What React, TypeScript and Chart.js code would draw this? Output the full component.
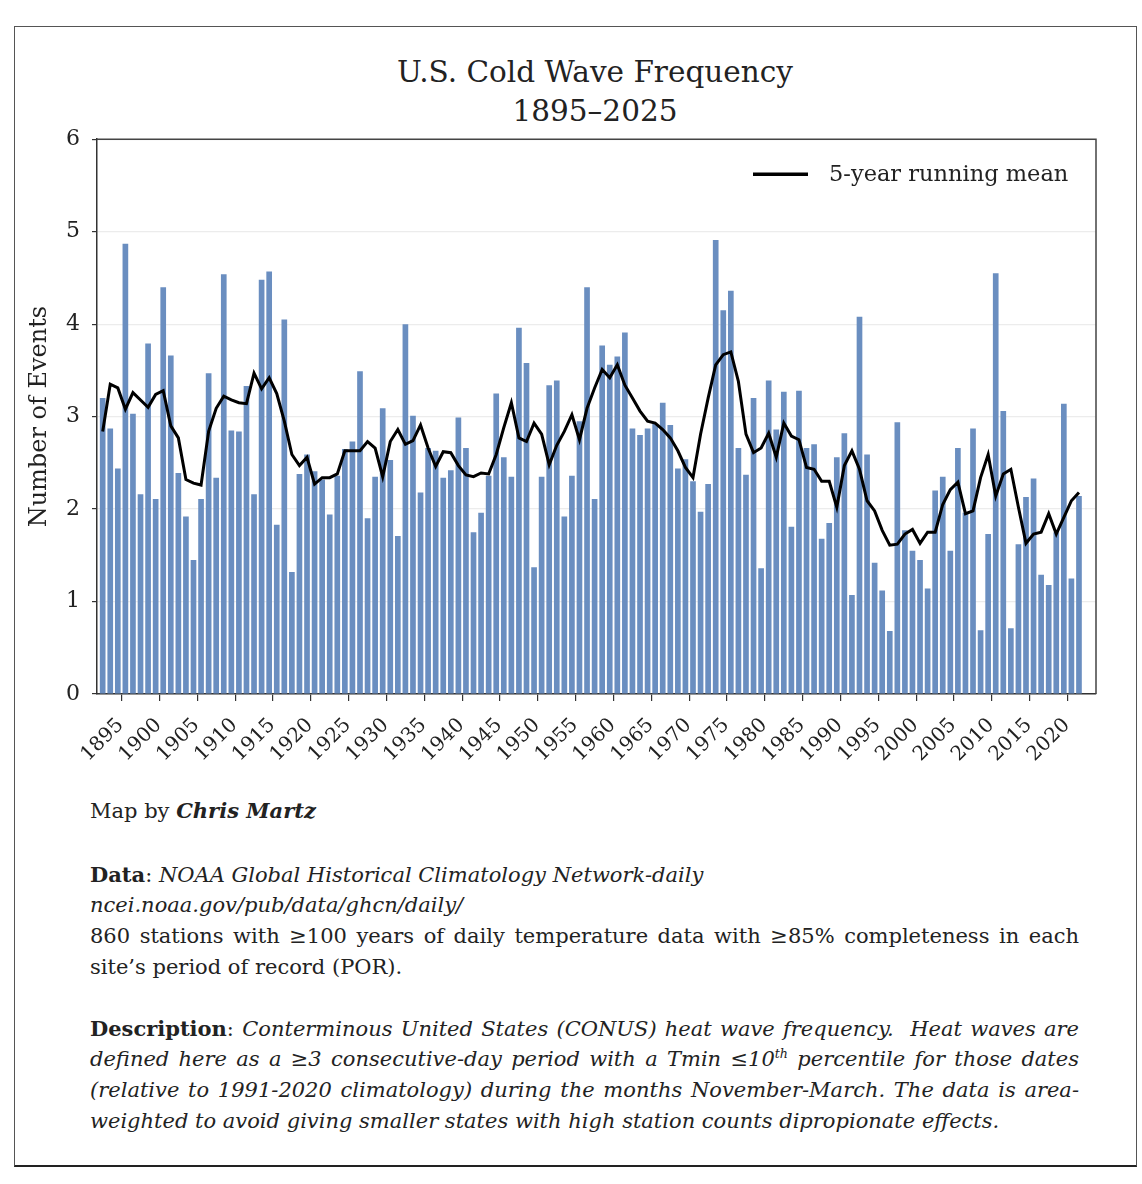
import React, { useEffect, useRef } from 'react';
import { Chart, registerables } from 'chart.js';

Chart.register(...registerables);

const years: number[] = Array.from({ length: 130 }, (_, i) => 1895 + i);

const tickLabels: string[] = [
  '1895', '1900', '1905', '1910', '1915', '1920', '1925', '1930', '1935', '1940',
  '1945', '1950', '1955', '1960', '1965', '1970', '1975', '1980', '1985', '1990',
  '1995', '2000', '2005', '2010', '2015', '2020',
];

const yTicks: number[] = [0, 1, 2, 3, 4, 5, 6];

// Number of cold wave events per year (1895–2024)
const coldWaveEvents: number[] = [
  3.20, 2.87, 2.44, 4.87, 3.03, 2.16, 3.79, 2.11, 4.40, 3.66, // 1895-1904
  2.39, 1.92, 1.45, 2.11, 3.47, 2.34, 4.54, 2.85, 2.84, 3.33, // 1905-1914
  2.16, 4.48, 4.57, 1.83, 4.05, 1.32, 2.38, 2.59, 2.41, 2.32, // 1915-1924
  1.94, 2.36, 2.65, 2.73, 3.49, 1.90, 2.35, 3.09, 2.53, 1.71, // 1925-1934
  4.00, 3.01, 2.18, 2.66, 2.63, 2.34, 2.42, 2.99, 2.66, 1.75, // 1935-1944
  1.96, 2.36, 3.25, 2.56, 2.35, 3.96, 3.58, 1.37, 2.35, 3.34, // 1945-1954
  3.39, 1.92, 2.36, 2.95, 4.40, 2.11, 3.77, 3.56, 3.65, 3.91, // 1955-1964
  2.87, 2.80, 2.87, 2.92, 3.15, 2.91, 2.44, 2.54, 2.30, 1.97, // 1965-1974
  2.27, 4.91, 4.15, 4.36, 2.66, 2.37, 3.20, 1.36, 3.39, 2.86, // 1975-1984
  3.27, 1.81, 3.28, 2.66, 2.70, 1.68, 1.85, 2.56, 2.82, 1.07, // 1985-1994
  4.08, 2.59, 1.42, 1.12, 0.68, 2.94, 1.77, 1.55, 1.45, 1.14, // 1995-2004
  2.20, 2.35, 1.55, 2.66, 1.96, 2.87, 0.69, 1.73, 4.55, 3.06, // 2005-2014
  0.71, 1.62, 2.13, 2.33, 1.29, 1.18, 1.75, 3.14, 1.25, 2.14, // 2015-2024
];

// 5-year running mean as drawn (1895–2024)
const runningMean: number[] = [
  2.84, 3.35, 3.31, 3.08, 3.26, 3.18, 3.10, 3.24, 3.28, 2.90, // 1895-1904
  2.77, 2.32, 2.28, 2.26, 2.84, 3.09, 3.22, 3.18, 3.15, 3.14, // 1905-1914
  3.47, 3.30, 3.42, 3.25, 2.95, 2.59, 2.47, 2.56, 2.27, 2.34, // 1915-1924
  2.34, 2.38, 2.63, 2.63, 2.63, 2.73, 2.66, 2.35, 2.73, 2.86, // 1925-1934
  2.70, 2.74, 2.91, 2.66, 2.46, 2.62, 2.61, 2.47, 2.37, 2.35, // 1935-1944
  2.39, 2.38, 2.59, 2.88, 3.15, 2.77, 2.73, 2.93, 2.81, 2.48, // 1945-1954
  2.69, 2.84, 3.02, 2.75, 3.09, 3.31, 3.51, 3.42, 3.56, 3.34, // 1955-1964
  3.20, 3.06, 2.95, 2.93, 2.86, 2.77, 2.63, 2.45, 2.34, 2.81, // 1965-1974
  3.20, 3.56, 3.67, 3.70, 3.38, 2.81, 2.61, 2.66, 2.82, 2.56, // 1975-1984
  2.93, 2.79, 2.75, 2.45, 2.43, 2.30, 2.30, 2.02, 2.47, 2.63, // 1985-1994
  2.43, 2.09, 1.98, 1.77, 1.61, 1.62, 1.73, 1.78, 1.63, 1.75, // 1995-2004
  1.75, 2.05, 2.21, 2.29, 1.95, 1.98, 2.34, 2.59, 2.14, 2.38, // 2005-2014
  2.43, 2.02, 1.63, 1.73, 1.75, 1.95, 1.73, 1.91, 2.09, 2.18, // 2015-2024
];

const SERIF = '"DejaVu Serif", serif';

const frameLegendPlugin = {
  id: 'frameLegend',
  afterDraw(chart: any) {
    const { ctx, chartArea } = chart;
    const { left, top, right, bottom } = chartArea;
    ctx.save();
    ctx.strokeStyle = '#444';
    ctx.lineWidth = 1.5;
    ctx.beginPath();
    ctx.moveTo(left, top);
    ctx.lineTo(right, top);
    ctx.lineTo(right, bottom);
    ctx.stroke();

    // centred, 45°-rotated year labels placed with the x scale
    const xs = chart.scales.x;
    ctx.fillStyle = '#222';
    ctx.font = `20px ${SERIF}`;
    ctx.textAlign = 'center';
    ctx.textBaseline = 'middle';
    tickLabels.forEach((t) => {
      const px = xs.getPixelForValue(Number(t));
      ctx.save();
      ctx.translate(px, bottom + 46);
      ctx.rotate(-Math.PI / 4);
      ctx.fillText(t, 0, 0);
      ctx.restore();
    });

    // legend entry for the running mean line
    const ds = chart.data.datasets[0];
    const y = top + 35;
    const x1 = right - 343;
    ctx.strokeStyle = ds.borderColor;
    ctx.lineWidth = 3.5;
    ctx.beginPath();
    ctx.moveTo(x1, y);
    ctx.lineTo(x1 + 55, y);
    ctx.stroke();
    ctx.fillStyle = '#222';
    ctx.font = `22.5px ${SERIF}`;
    ctx.textBaseline = 'middle';
    ctx.textAlign = 'left';
    ctx.fillText(ds.label, x1 + 76, y + 1);
    ctx.restore();
  },
};

function ColdWaveChart() {
  const ref = useRef<HTMLCanvasElement | null>(null);
  useEffect(() => {
    if (!ref.current) return;
    const barData = years.map((yr, i) => ({ x: yr, y: coldWaveEvents[i] }));
    const lineData = years.map((yr, i) => ({ x: yr, y: runningMean[i] }));
    const chart = new Chart(ref.current, {
      type: 'bar',
      data: {
        datasets: [
          {
            type: 'line',
            label: '5-year running mean',
            data: lineData,
            borderColor: '#000000',
            borderWidth: 3,
            pointRadius: 0,
            tension: 0,
            order: 0,
          } as any,
          {
            type: 'bar',
            label: 'Cold wave events',
            data: barData,
            backgroundColor: '#6a8ec0',
            barPercentage: 0.75,
            categoryPercentage: 1,
            order: 1,
          } as any,
        ],
      },
      options: {
        animation: false,
        responsive: false,
        maintainAspectRatio: false,
        layout: { padding: { left: 0, right: 41, top: 12, bottom: 0 } },
        plugins: {
          legend: { display: false },
          title: { display: false },
          tooltip: { enabled: false },
        },
        scales: {
          x: {
            type: 'linear',
            min: 1894.25,
            max: 2026.25,
            offset: false,
            grid: { drawOnChartArea: false, tickLength: 7, tickColor: '#333', lineWidth: 1.2 },
            border: { color: '#333', width: 1.5 },
            afterBuildTicks(scale: any) {
              scale.ticks = tickLabels.map((t) => ({ value: Number(t) }));
            },
            ticks: {
              display: false,
              autoSkip: false,
            },
            afterFit(scale: any) {
              scale.height = 80;
            },
          },
          y: {
            min: 0,
            max: 6,
            afterBuildTicks(scale: any) {
              scale.ticks = yTicks.map((t) => ({ value: t }));
            },
            ticks: {
              stepSize: 1,
              padding: 12,
              color: '#222',
              font: { family: SERIF, size: 22 },
            },
            grid: { color: '#ececec', tickColor: '#333', tickLength: 5, lineWidth: 1.2 },
            border: { color: '#333', width: 1.5 },
            title: {
              display: true,
              text: 'Number of Events',
              color: '#222',
              font: { family: SERIF, size: 24 },
              padding: { top: 10, bottom: 0 },
            },
            afterFit(scale: any) {
              scale.width = 82;
            },
          },
        },
      } as any,
      plugins: [frameLegendPlugin],
    });
    return () => chart.destroy();
  }, []);
  return (
    <canvas
      ref={ref}
      width={1122}
      height={660}
      style={{ position: 'absolute', left: 15, top: 114, width: 1122, height: 660 }}
    />
  );
}

const lineStyle: React.CSSProperties = {
  position: 'absolute',
  left: 90,
  width: 989,
  height: 31,
  lineHeight: '31px',
  fontSize: 21,
  whiteSpace: 'nowrap',
};

const justified: React.CSSProperties = {
  ...lineStyle,
  textAlign: 'justify',
  textAlignLast: 'justify' as any,
  whiteSpace: 'normal',
};

export default function App() {
  return (
    <div
      style={{
        position: 'absolute',
        left: 0,
        top: 0,
        width: 1142,
        height: 1184,
        background: '#ffffff',
        fontFamily: SERIF,
        color: '#222',
        overflow: 'hidden',
      }}
    >
      <div
        style={{
          position: 'absolute',
          left: 14,
          top: 26,
          width: 1123,
          height: 1141,
          border: '1.5px solid #555',
          borderBottom: '2.5px solid #222',
          boxSizing: 'border-box',
        }}
      />
      <div style={{ position: 'absolute', left: 295, width: 600, top: 53, lineHeight: '39px', fontSize: 29.5, textAlign: 'center' }}>
        U.S. Cold Wave Frequency
        <br />
        1895–2025
      </div>
      <ColdWaveChart />
      <div style={{ ...lineStyle, top: 795 }}>
        Map by <b><i>Chris Martz</i></b>
      </div>
      <div style={{ ...lineStyle, top: 859 }}>
        <b>Data</b>: <i>NOAA Global Historical Climatology Network-daily</i>
      </div>
      <div style={{ ...lineStyle, top: 890 }}>
        <i>ncei.noaa.gov/pub/data/ghcn/daily/</i>
      </div>
      <div style={{ ...justified, top: 921 }}>
        860 stations with ≥100 years of daily temperature data with ≥85% completeness in each
      </div>
      <div style={{ ...lineStyle, top: 952 }}>site’s period of record (POR).</div>
      <div style={{ ...justified, top: 1013 }}>
        <b>Description</b>: <i>Conterminous United States (CONUS) heat wave frequency.&nbsp; Heat waves are</i>
      </div>
      <div style={{ ...justified, top: 1044 }}>
        <i>
          defined here as a ≥3 consecutive-day period with a Tmin ≤10
          <sup style={{ fontSize: '0.6em', lineHeight: 0 }}>th</sup> percentile for those dates
        </i>
      </div>
      <div style={{ ...justified, top: 1075 }}>
        <i>(relative to 1991-2020 climatology) during the months November-March. The data is area-</i>
      </div>
      <div style={{ ...lineStyle, top: 1106 }}>
        <i>weighted to avoid giving smaller states with high station counts dipropionate effects.</i>
      </div>
    </div>
  );
}
